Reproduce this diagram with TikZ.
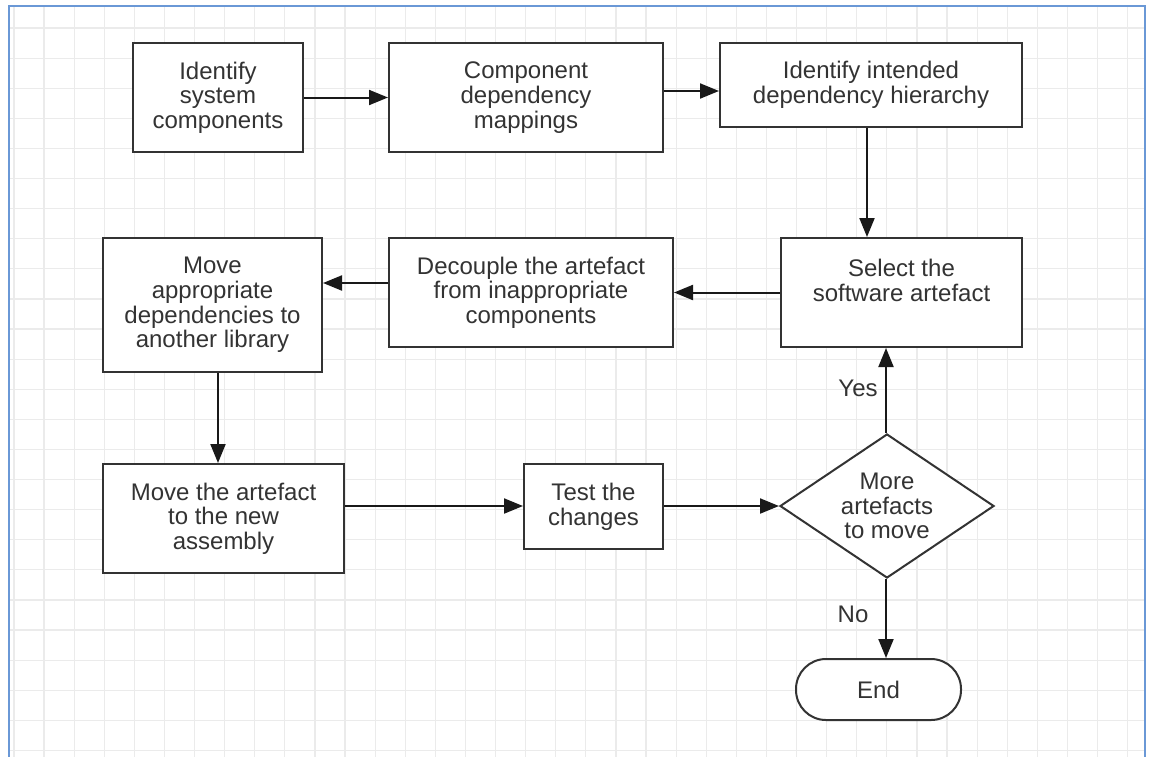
\documentclass[tikz,border=0pt]{standalone}
\usepackage{fontspec}
\setmainfont{Liberation Sans}
\usetikzlibrary{arrows.meta,shapes.geometric,calc}
\definecolor{inkgray}{HTML}{333333}
\definecolor{gridgray}{HTML}{EBEBEB}
\definecolor{frameblue}{HTML}{6A98D6}
\tikzset{
  stepbox/.style={draw=inkgray, line width=2pt, fill=white, rectangle,
    align=center, inner sep=0pt, text=inkgray,
    font=\fontsize{24}{24.7}\selectfont},
  decision/.style={stepbox, diamond, aspect=1.486},
  terminal/.style={stepbox, rounded corners=30pt},
  flow/.style={draw=black!90, line width=2pt,
    -{Triangle[length=19pt,width=15pt]}},
  edgelabel/.style={text=inkgray, font=\fontsize{24}{24.7}\selectfont}
}
\begin{document}
\begin{tikzpicture}[x=1pt,y=-1pt]
\useasboundingbox (0,0) rectangle (1150,756);
\fill[white] (0,0) rectangle (1150,756);

% background grid inside the frame
\begin{scope}
  \clip (10,7) rectangle (1144,756);
  \foreach \k in {0,...,37}
    \draw[gridgray, line width=1.2pt] (13.9+30.1*\k,0) -- (13.9+30.1*\k,760);
  \foreach \k in {-1,...,24}
    \draw[gridgray, line width=1.2pt] (0,28+30.1*\k) -- (1150,28+30.1*\k);
\end{scope}

% page frame
\draw[frameblue, line width=2pt] (9,760) -- (9,6) -- (1145,6) -- (1145,760);

% process steps
\node[stepbox, minimum width=170pt, minimum height=109pt] (A) at (218,97.5)
  {Identify\\system\\components};
\node[stepbox, minimum width=274pt, minimum height=109pt] (B) at (526,97.5)
  {Component\\dependency\\mappings};
\node[stepbox, minimum width=302pt, minimum height=84pt] (C) at (871,85)
  {Identify intended\\dependency hierarchy};
\node[stepbox, minimum width=241pt, minimum height=109pt] (D) at (901.5,292.5)
  {Select the\\software artefact\\\mbox{}};
\node[stepbox, minimum width=284pt, minimum height=109pt] (E) at (531,292.5)
  {Decouple the artefact\\from inappropriate\\components};
\node[stepbox, minimum width=219pt, minimum height=134pt] (F) at (212.5,305)
  {Move\\appropriate\\dependencies to\\another library};
\node[stepbox, minimum width=241pt, minimum height=109pt] (G) at (223.5,518.5)
  {Move the artefact\\to the new\\assembly};
\node[stepbox, minimum width=139pt, minimum height=85pt] (H) at (593.5,506.5)
  {Test the\\changes};
\node[decision, minimum width=214pt, minimum height=144pt] (Q) at (887,506)
  {More\\artefacts\\to move};
\node[terminal, minimum width=165pt, minimum height=61pt] (End) at (878.5,689.5)
  {End};

% connectors
\draw[flow] (A.east) -- (A.east -| B.west);
\draw[flow] ([yshift=6.5pt]B.east) -- ([yshift=6.5pt]B.east -| C.west);
\draw[flow] ([xshift=-4pt]C.south) -- ([xshift=-4pt]C.south |- D.north);
\draw[flow] (D.west) -- (D.west -| E.east);
\draw[flow] ([yshift=9.5pt]E.west) -- ([yshift=9.5pt]E.west -| F.east);
\draw[flow] ([xshift=5.5pt]F.south) -- ([xshift=5.5pt]F.south |- G.north);
\draw[flow] ([yshift=12.5pt]G.east) -- ([yshift=12.5pt]G.east -| H.west);
\draw[flow] (H.east |- Q.west) -- (Q.west);
\draw[flow] ([xshift=-1pt]Q.north) -- ([xshift=-1pt]Q.north |- D.south);
\draw[flow] ([xshift=-1pt]Q.south) -- ([xshift=-1pt]Q.south |- End.north);

% branch labels
\node[edgelabel] (yes) at (858,388) {Yes};
\node[edgelabel] (no) at (853,614) {No};
\end{tikzpicture}
\end{document}
